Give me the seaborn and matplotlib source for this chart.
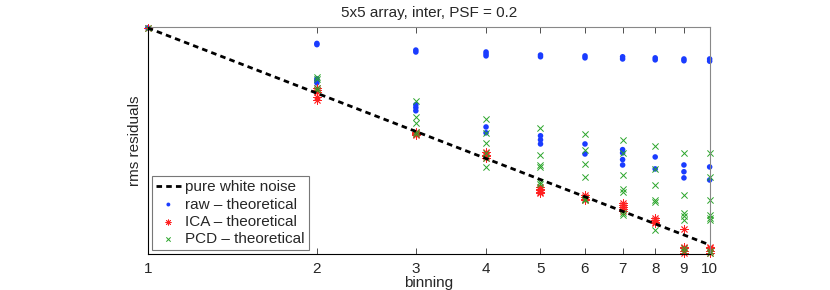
import numpy as np
import pandas as pd
import seaborn as sns
import matplotlib.pyplot as plt
from matplotlib.ticker import FixedLocator, NullLocator, FixedFormatter

# binning factors
bins = [1, 2, 3, 4, 5, 6, 7, 8, 9, 10]

# rms residuals, one list per binning
raw_vals = [
    [1.0],
    [0.921, 0.915, 0.763, 0.755, 0.747],
    [0.889, 0.880, 0.665, 0.655, 0.644],
    [0.880, 0.871, 0.862, 0.591, 0.573],
    [0.866, 0.858, 0.564, 0.552, 0.540],
    [0.862, 0.853, 0.540, 0.512],
    [0.858, 0.848, 0.524, 0.515, 0.497, 0.483],
    [0.853, 0.844, 0.504, 0.473],
    [0.848, 0.840, 0.483, 0.466, 0.451],
    [0.848, 0.838, 0.478, 0.446],
]
ica_vals = [
    [1.0],
    [0.727, 0.720, 0.712, 0.693, 0.682],
    [0.576, 0.573, 0.570, 0.567],
    [0.518, 0.510, 0.507, 0.502],
    [0.430, 0.426, 0.423, 0.419, 0.417],
    [0.412, 0.408, 0.404, 0.402],
    [0.395, 0.391, 0.387, 0.383, 0.379],
    [0.365, 0.361, 0.357, 0.354],
    [0.344, 0.313, 0.310, 0.306, 0.303],
    [0.313, 0.310, 0.306, 0.303],
]
pcd_vals = [
    [1.0],
    [0.771, 0.763, 0.727, 0.720],
    [0.679, 0.624, 0.604, 0.576, 0.570],
    [0.617, 0.573, 0.543, 0.515, 0.502, 0.478],
    [0.588, 0.510, 0.483, 0.478, 0.442, 0.437],
    [0.570, 0.524, 0.486, 0.453, 0.404, 0.400],
    [0.552, 0.515, 0.458, 0.426, 0.419, 0.375, 0.371],
    [0.535, 0.473, 0.435, 0.402, 0.397, 0.342],
    [0.515, 0.412, 0.375, 0.369, 0.361, 0.310, 0.306],
    [0.515, 0.453, 0.402, 0.371, 0.365, 0.361, 0.306, 0.303],
]

# pure white noise reference
noise_bins = [1, 10]
noise_rms = [1.0, 0.316]


def to_long(vals, name):
    rows = []
    for b, v in zip(bins, vals):
        for r in v:
            rows.append({"binning": b, "rms": r, "method": name})
    return pd.DataFrame(rows)


raw_df = to_long(raw_vals, "raw")
ica_df = to_long(ica_vals, "ICA")
pcd_df = to_long(pcd_vals, "PCD")
noise_df = pd.DataFrame({"binning": noise_bins, "rms": noise_rms})

sns.set_style("white")
plt.rcParams["font.family"] = ["Liberation Sans", "DejaVu Sans"]

fig = plt.figure(figsize=(8.3, 2.9), dpi=100)
ax = fig.add_axes([0.178, 0.124, 0.677, 0.783])

sns.lineplot(data=noise_df, x="binning", y="rms", ax=ax, color="black",
             linewidth=2, dashes=False, label="pure white noise", zorder=3)
ax.lines[0].set_dashes((2, 1.5))

sns.scatterplot(data=raw_df, x="binning", y="rms", ax=ax, marker="o",
                color="#1a3cff", s=16, edgecolor="none", clip_on=False,
                label="raw \u2013 theoretical", zorder=2)
sns.scatterplot(data=ica_df, x="binning", y="rms", ax=ax, marker=(8, 2, 0),
                color="#ff2020", s=30, linewidth=0.6, clip_on=False,
                label="ICA \u2013 theoretical", zorder=2)
sns.scatterplot(data=pcd_df, x="binning", y="rms", ax=ax, marker="x",
                color="#2aa52a", s=20, linewidth=0.7, clip_on=False,
                label="PCD \u2013 theoretical", zorder=2)

ax.set_xscale("log")
ax.set_yscale("log")
ax.set_xlim(1, 10)
ax.set_ylim(0.301, 1.005)

ax.xaxis.set_major_locator(FixedLocator(bins))
ax.xaxis.set_major_formatter(FixedFormatter([str(b) for b in bins]))
ax.xaxis.set_minor_locator(NullLocator())
ax.yaxis.set_major_locator(NullLocator())
ax.yaxis.set_minor_locator(NullLocator())
ax.tick_params(axis="x", direction="in", top=True, bottom=True, length=4,
               width=0.6, labelsize=11, pad=6, color="#333333")

for side in ["left", "bottom"]:
    ax.spines[side].set_color("black")
    ax.spines[side].set_linewidth(0.8)
for side in ["top", "right"]:
    ax.spines[side].set_color("#888888")
    ax.spines[side].set_linewidth(0.8)

ax.set_xlabel("binning", fontsize=11, labelpad=0)
ax.set_ylabel("rms residuals", fontsize=11, labelpad=4)
ax.set_title("5x5 array, inter, PSF = 0.2", fontsize=11, pad=7)

leg = ax.legend(loc="lower left", fontsize=11, frameon=True, fancybox=False,
                handlelength=1.6, handletextpad=0.3, labelspacing=0.2,
                borderpad=0.3, borderaxespad=0.25, markerscale=0.7)
leg.get_frame().set_edgecolor("#555555")
leg.get_frame().set_linewidth(0.8)

fig.savefig("out.png", dpi=100)
